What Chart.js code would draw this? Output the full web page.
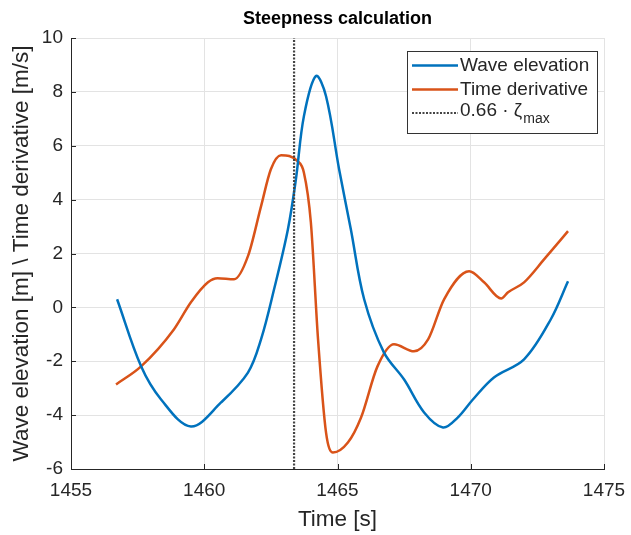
<!DOCTYPE html>
<html><head><meta charset="utf-8">
<script src="https://cdn.jsdelivr.net/npm/chart.js@4.4.1/dist/chart.umd.min.js"></script>
<style>html,body{margin:0;padding:0;background:#fff}#wrap{width:631px;height:535px}</style>
</head><body><div id="wrap"><canvas id="c" width="631" height="535"></canvas></div>
<script>
const titleText = "Steepness calculation";
const xTitle = "Time [s]";
const yTitle = "Wave elevation [m] \\ Time derivative [m/s]";
const legendLabels = ["Wave elevation", "Time derivative", "0.66 \u00b7 \u03b6"];
const legendSub = "max";
const xTicks = [1455, 1460, 1465, 1470, 1475];
const yTicks = [-6, -4, -2, 0, 2, 4, 6, 8, 10];

const waveT = [1456.73,1457.63,1458.38,1459.5,1460.63,1461.64,1462.13,1462.62,1463.14,1463.44,1463.74,1464.19,1464.57,1465.06,1465.5,1466.0,1466.74,1467.5,1468.25,1468.96,1469.5,1470.08,1470.87,1472.0,1473.0,1473.65];
const waveV = [0.3,-2.19,-3.42,-4.42,-3.53,-2.42,-1.19,0.67,2.9,4.76,7.1,8.59,7.84,5.13,2.9,0.3,-1.67,-2.68,-3.9,-4.46,-4.1,-3.42,-2.6,-1.93,-0.45,0.97];
const derivT = [1456.69,1457.63,1458.86,1459.5,1460.14,1460.5,1461.12,1461.64,1462.13,1462.5,1462.88,1463.5,1463.74,1464.0,1464.27,1464.57,1464.83,1465.39,1465.88,1466.5,1467.12,1467.87,1468.4,1469.0,1469.94,1470.5,1471.14,1471.4,1472.0,1472.75,1473.65];
const derivV = [-2.86,-2.19,-0.82,0.19,0.93,1.08,1.04,1.9,3.75,5.13,5.65,5.43,5.0,3.16,-1.19,-4.65,-5.39,-5.02,-4.1,-2.19,-1.37,-1.63,-1.19,0.3,1.34,0.93,0.33,0.56,0.93,1.78,2.83];
const markT = [1463.37, 1463.37];
const markV = [-6, 10];

const BLUE = '#0072BD', ORANGE = '#D95319', DARK = '#262626';
const FONT = '"Liberation Sans", Arial, sans-serif';
const pts = (xs, ys) => xs.map((x, i) => ({x, y: ys[i]}));

const extras = {
  id: 'extras',
  afterDraw(chart) {
    const ctx = chart.ctx, xs = chart.scales.x, ys = chart.scales.y, a = chart.chartArea;
    ctx.save();
    ctx.fillStyle = '#000'; ctx.textAlign = 'center'; ctx.textBaseline = 'middle';
    ctx.font = 'bold 18px ' + FONT;
    ctx.fillText(titleText, (a.left + a.right) / 2, 19);
    ctx.strokeStyle = DARK; ctx.lineWidth = 1;
    ctx.beginPath();
    xTicks.forEach(v => { const px = Math.round(xs.getPixelForValue(v)) + 0.5; ctx.moveTo(px, a.bottom); ctx.lineTo(px, a.bottom - 5); });
    yTicks.forEach(v => { const py = Math.round(ys.getPixelForValue(v)) + 0.5; ctx.moveTo(a.left, py); ctx.lineTo(a.left + 5, py); });
    ctx.stroke();
    const bx = 407.5, by = 51.5, bw = 190, bh = 82;
    ctx.fillStyle = '#fff'; ctx.fillRect(bx, by, bw, bh);
    ctx.strokeStyle = '#333'; ctx.lineWidth = 1; ctx.strokeRect(bx, by, bw, bh);
    const rows = [65.5, 89.5, 113];
    const colors = [BLUE, ORANGE, '#444'];
    for (let i = 0; i < 3; i++) {
      ctx.beginPath();
      ctx.strokeStyle = colors[i];
      ctx.lineWidth = i < 2 ? 2.5 : 2;
      ctx.setLineDash(i < 2 ? [] : [2, 1.5]);
      ctx.moveTo(412, rows[i]); ctx.lineTo(458, rows[i]);
      ctx.stroke();
    }
    ctx.setLineDash([]);
    ctx.fillStyle = DARK; ctx.textBaseline = 'middle'; ctx.textAlign = 'left';
    ctx.font = '19px ' + FONT;
    ctx.fillText(legendLabels[0], 460, rows[0]);
    ctx.fillText(legendLabels[1], 460, rows[1]);
    ctx.fillText(legendLabels[2], 460, rows[2] - 2);
    const w = ctx.measureText(legendLabels[2]).width;
    ctx.font = '14px ' + FONT;
    ctx.fillText(legendSub, 460 + w + 1, rows[2] + 6);
    ctx.restore();
  }
};

new Chart(document.getElementById('c'), {
  type: 'line',
  data: {
    datasets: [
      {label: 'mark', data: pts(markT, markV), borderColor: '#444', borderWidth: 2.2, borderDash: [2, 1.5], pointRadius: 0, fill: false},
      {label: 'Wave elevation', data: pts(waveT, waveV), borderColor: BLUE, borderWidth: 2.5, pointRadius: 0, tension: 0.35, fill: false},
      {label: 'Time derivative', data: pts(derivT, derivV), borderColor: ORANGE, borderWidth: 2.5, pointRadius: 0, cubicInterpolationMode: 'monotone', fill: false}
    ]
  },
  options: {
    responsive: false, animation: false, devicePixelRatio: 1,
    layout: {padding: {left: 0, right: 27, top: 38, bottom: 0}},
    plugins: {
      legend: {display: false}, tooltip: {enabled: false}, title: {display: false}
    },
    scales: {
      x: {
        type: 'linear', min: 1455, max: 1475,
        afterBuildTicks: s => { s.ticks = xTicks.map(v => ({value: v})); },
        ticks: {color: DARK, font: {family: FONT, size: 19}, padding: 10, maxRotation: 0, callback: v => String(v)},
        grid: {color: '#e3e3e3', drawTicks: false},
        border: {color: DARK, width: 1},
        title: {display: true, text: xTitle, color: DARK, font: {family: FONT, size: 22.5}, padding: {top: 0, bottom: 2}},
        afterFit: s => { s.height = 66; s.paddingLeft = 0; s.paddingRight = 0; }
      },
      y: {
        type: 'linear', min: -6, max: 10,
        afterBuildTicks: s => { s.ticks = yTicks.map(v => ({value: v})); },
        ticks: {color: DARK, font: {family: FONT, size: 19}, padding: 8},
        grid: {color: '#e3e3e3', drawTicks: false},
        border: {color: DARK, width: 1},
        title: {display: true, text: yTitle, color: DARK, font: {family: FONT, size: 22.5}, padding: {top: 8, bottom: 0}},
        afterFit: s => { s.width = 71; s.paddingTop = 0; s.paddingBottom = 0; }
      }
    }
  },
  plugins: [extras]
});
</script></body></html>
